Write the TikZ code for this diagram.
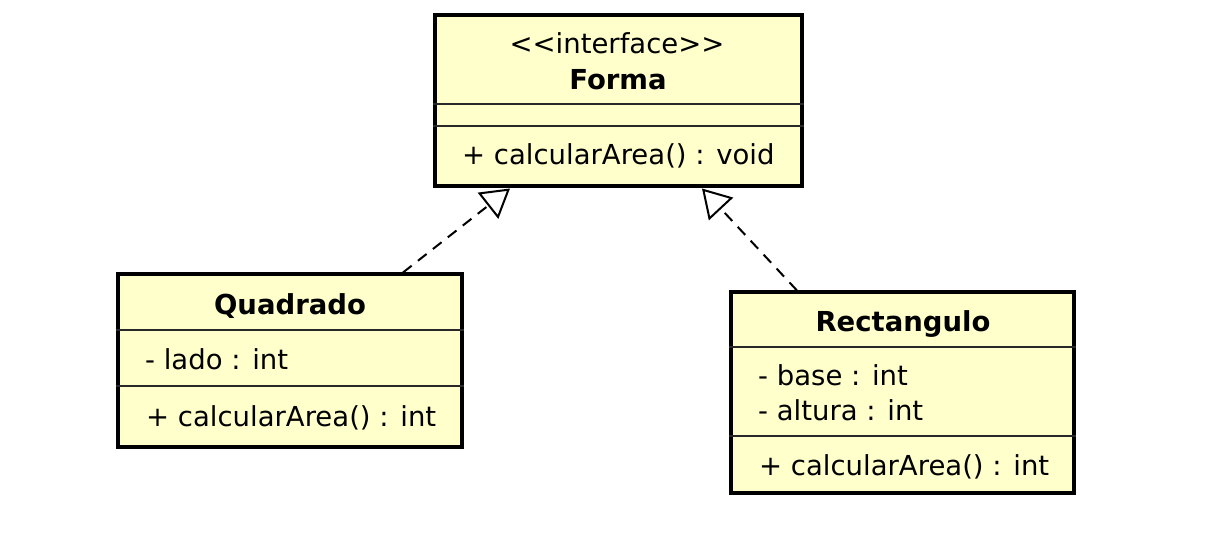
\documentclass[tikz,border=0pt]{standalone}
\usepackage{fontspec}
\setmainfont{DejaVu Sans}
\usetikzlibrary{arrows.meta}
\definecolor{umlfill}{RGB}{255,255,204}
\definecolor{sepline}{RGB}{40,40,40}
\tikzset{
  classbox/.style={draw=black, line width=4pt, fill=umlfill, rectangle, inner sep=0pt},
  sep/.style={draw=sepline, line width=1.8pt},
  txt/.style={inner sep=0pt, font=\fontsize{27.5}{31}\selectfont},
  ttl/.style={inner sep=0pt, font=\fontsize{27.5}{31}\selectfont\bfseries},
  realize/.style={line width=2pt, dash pattern=on 11pt off 8pt,
    -{Triangle[open, length=28pt, width=33pt, line width=2pt]}}
}
\begin{document}
\begin{tikzpicture}[x=1pt,y=-1pt]
\useasboundingbox (0,0) rectangle (1212,534);
% Forma
\node[classbox, minimum width=366.5pt, minimum height=171.5pt] (forma) at (618.25,100.75) {};
\draw[sep] ([yshift=-91.3pt]forma.north west) -- ([yshift=-91.3pt]forma.north east);
\draw[sep] ([yshift=-113pt]forma.north west) -- ([yshift=-113pt]forma.north east);
\node[txt, anchor=base] (fst) at (617,54) {{<}{<}interface{>}{>}};
\node[ttl, anchor=base] (fname) at (618,90) {Forma};
\node[txt, anchor=base west] (fm) at (462,165) {+ calcularArea() : void};
% Quadrado
\node[classbox, minimum width=344.5pt, minimum height=172pt] (quad) at (289.75,360.5) {};
\draw[sep] ([yshift=-57.5pt]quad.north west) -- ([yshift=-57.5pt]quad.north east);
\draw[sep] ([yshift=-113.2pt]quad.north west) -- ([yshift=-113.2pt]quad.north east);
\node[ttl, anchor=base] (qname) at (290,315) {Quadrado};
\node[txt, anchor=base west] (qa) at (145,370) {- lado : int};
\node[txt, anchor=base west] (qm) at (146,426.5) {+ calcularArea() : int};
% Rectangulo
\node[classbox, minimum width=343.5pt, minimum height=200pt] (rect) at (902.25,392.5) {};
\draw[sep] ([yshift=-56.2pt]rect.north west) -- ([yshift=-56.2pt]rect.north east);
\draw[sep] ([yshift=-145.5pt]rect.north west) -- ([yshift=-145.5pt]rect.north east);
\node[ttl, anchor=base] (rname) at (903,331.5) {Rectangulo};
\node[txt, anchor=base west] (ra) at (758,385) {- base : int};
\node[txt, anchor=base west] (rb) at (758,420) {- altura : int};
\node[txt, anchor=base west] (rm) at (759,475) {+ calcularArea() : int};
% realizations
\draw[realize] ([xshift=-61pt]quad.north east) -- ([xshift=77pt]forma.south west);
\draw[realize] ([xshift=68.5pt]rect.north west) -- ([xshift=269pt]forma.south west);
\end{tikzpicture}
\end{document}
